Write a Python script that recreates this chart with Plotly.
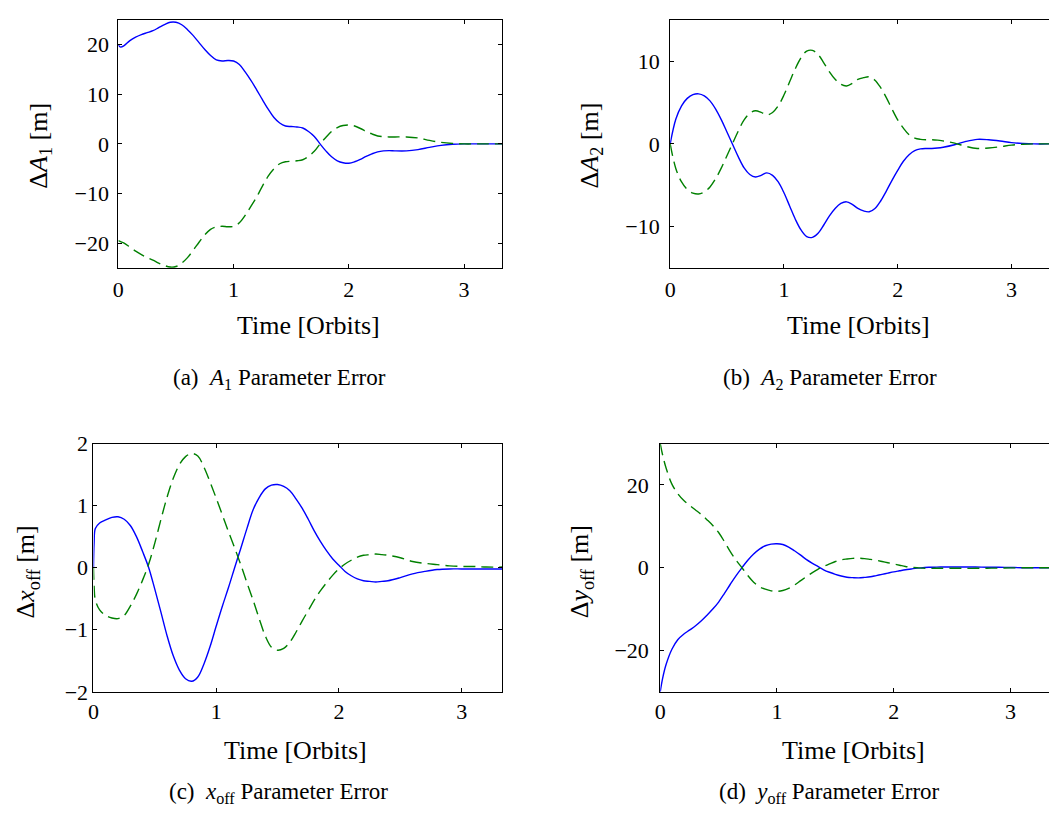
import plotly.graph_objects as go

W, H = 1049, 828

# ---------------- data ----------------
t_a = [0, 0.02, 0.05, 0.1, 0.15, 0.2, 0.25, 0.3, 0.35, 0.4, 0.45, 0.5, 0.55, 0.6, 0.65, 0.7,
       0.75, 0.8, 0.85, 0.9, 0.95, 1.0, 1.05, 1.1, 1.15, 1.2, 1.25, 1.3, 1.35, 1.4, 1.45, 1.5,
       1.55, 1.6, 1.65, 1.7, 1.75, 1.8, 1.85, 1.9, 1.95, 2.0, 2.05, 2.1, 2.15, 2.2, 2.25, 2.3,
       2.35, 2.4, 2.5, 2.6, 2.7, 2.8, 2.9, 3.0, 3.1, 3.2, 3.33]
a1_blue = [19.9, 19.5, 19.8, 20.8, 21.5, 22.0, 22.4, 22.8, 23.4, 24.0, 24.5, 24.5, 24.0, 23.0,
           21.8, 20.4, 19.0, 17.8, 16.9, 16.7, 16.8, 16.7, 16.0, 14.5, 12.8, 10.9, 8.9, 7.0,
           5.3, 4.2, 3.6, 3.5, 3.4, 3.2, 2.5, 1.5, 0.0, -1.4, -2.6, -3.4, -3.8, -3.9, -3.6,
           -3.1, -2.5, -2.0, -1.6, -1.4, -1.35, -1.4, -1.4, -1.15, -0.7, -0.3, -0.08, 0.0,
           0.0, 0.0, 0.0]
a1_green = [-19.5, -19.7, -20.0, -20.8, -21.6, -22.3, -22.9, -23.4, -24.0, -24.5, -24.8,
            -24.7, -24.0, -22.9, -21.4, -19.8, -18.3, -17.2, -16.7, -16.6, -16.7, -16.6,
            -15.9, -14.4, -12.6, -10.7, -8.5, -6.5, -5.0, -4.0, -3.6, -3.5, -3.4, -3.2, -2.5,
            -1.5, 0.0, 1.3, 2.5, 3.3, 3.7, 3.8, 3.6, 3.1, 2.5, 2.0, 1.6, 1.45, 1.4, 1.4, 1.4,
            1.2, 0.7, 0.3, 0.08, 0.0, 0.0, 0.0, 0.0]

t_b = [0, 0.05, 0.1, 0.15, 0.2, 0.25, 0.3, 0.35, 0.4, 0.45, 0.5, 0.55, 0.6, 0.65, 0.7, 0.75,
       0.8, 0.85, 0.9, 0.95, 1.0, 1.05, 1.1, 1.15, 1.2, 1.25, 1.3, 1.35, 1.4, 1.45, 1.5, 1.55,
       1.6, 1.65, 1.7, 1.75, 1.8, 1.85, 1.9, 1.95, 2.0, 2.05, 2.1, 2.15, 2.2, 2.25, 2.3, 2.35,
       2.4, 2.5, 2.6, 2.7, 2.8, 2.9, 3.0, 3.1, 3.2, 3.33]
a2_blue = [0.0, 3.0, 4.6, 5.5, 5.95, 6.05, 5.8, 5.2, 4.2, 2.9, 1.4, -0.1, -1.6, -2.9, -3.7,
           -4.0, -3.8, -3.5, -3.8, -4.6, -5.9, -7.5, -9.1, -10.4, -11.2, -11.3, -10.8, -9.8,
           -8.7, -7.8, -7.2, -7.0, -7.3, -7.8, -8.1, -8.2, -7.8, -6.9, -5.7, -4.4, -3.2,
           -2.1, -1.3, -0.8, -0.6, -0.55, -0.55, -0.5, -0.4, -0.1, 0.3, 0.55, 0.5, 0.35,
           0.15, 0.05, 0.0, 0.0]
a2_green = [0.0, -3.0, -4.6, -5.5, -5.95, -6.05, -5.8, -5.2, -4.2, -2.9, -1.4, 0.1, 1.6, 2.9,
            3.7, 4.0, 3.8, 3.5, 3.8, 4.6, 5.9, 7.5, 9.1, 10.4, 11.2, 11.3, 10.8, 9.8, 8.7,
            7.8, 7.2, 7.0, 7.3, 7.8, 8.0, 8.1, 7.7, 6.8, 5.6, 4.2, 2.9, 1.9, 1.1, 0.7, 0.55,
            0.5, 0.5, 0.45, 0.35, 0.1, -0.3, -0.55, -0.5, -0.35, -0.15, -0.05, 0.0, 0.0]

t_c = [0, 0.005, 0.015, 0.05, 0.1, 0.15, 0.2, 0.25, 0.3, 0.35, 0.4, 0.45, 0.5, 0.55, 0.6,
       0.65, 0.7, 0.75, 0.8, 0.85, 0.9, 0.95, 1.0, 1.05, 1.1, 1.15, 1.2, 1.25, 1.3, 1.35, 1.4,
       1.45, 1.5, 1.55, 1.6, 1.65, 1.7, 1.75, 1.8, 1.85, 1.9, 1.95, 2.0, 2.05, 2.1, 2.15,
       2.2, 2.25, 2.3, 2.35, 2.4, 2.5, 2.6, 2.7, 2.8, 2.9, 3.0, 3.1, 3.2, 3.33]
xoff_blue = [0.0, 0.4, 0.63, 0.72, 0.77, 0.81, 0.82, 0.78, 0.68, 0.5, 0.26, 0.0, -0.35, -0.72,
             -1.1, -1.42, -1.65, -1.79, -1.83, -1.76, -1.55, -1.27, -0.94, -0.62, -0.32, 0.0,
             0.31, 0.63, 0.93, 1.13, 1.27, 1.33, 1.34, 1.31, 1.24, 1.11, 0.96, 0.78, 0.59,
             0.42, 0.27, 0.14, 0.04, -0.06, -0.13, -0.18, -0.21, -0.22, -0.23, -0.22, -0.21,
             -0.16, -0.1, -0.06, -0.03, -0.02, -0.02, -0.02, -0.02, -0.02]
xoff_green = [0.0, -0.3, -0.52, -0.68, -0.77, -0.81, -0.82, -0.77, -0.62, -0.43, -0.2, 0.06,
              0.4, 0.78, 1.14, 1.44, 1.66, 1.79, 1.84, 1.8, 1.62, 1.38, 1.12, 0.85, 0.58,
              0.32, 0.05, -0.24, -0.52, -0.82, -1.1, -1.28, -1.33, -1.3, -1.2, -1.04, -0.86,
              -0.69, -0.52, -0.37, -0.24, -0.12, -0.02, 0.06, 0.12, 0.17, 0.2, 0.21, 0.22,
              0.21, 0.2, 0.16, 0.1, 0.07, 0.05, 0.03, 0.02, 0.02, 0.01, 0.01]

t_d = [0, 0.02, 0.05, 0.1, 0.15, 0.2, 0.25, 0.3, 0.35, 0.4, 0.45, 0.5, 0.55, 0.6, 0.65, 0.7,
       0.75, 0.8, 0.85, 0.9, 0.95, 1.0, 1.05, 1.1, 1.15, 1.2, 1.25, 1.3, 1.35, 1.4, 1.45, 1.5,
       1.55, 1.6, 1.65, 1.7, 1.75, 1.8, 1.85, 1.9, 1.95, 2.0, 2.05, 2.1, 2.15, 2.2, 2.25, 2.3,
       2.35, 2.4, 2.5, 2.6, 2.7, 2.8, 2.9, 3.0, 3.1, 3.2, 3.33]
yoff_blue = [-30.0, -26.8, -23.4, -19.7, -17.4, -16.1, -15.1, -14.1, -12.9, -11.5, -10.0,
             -8.3, -6.2, -4.0, -1.9, 0.0, 1.8, 3.3, 4.5, 5.3, 5.7, 5.8, 5.6, 5.0, 4.1, 3.1,
             2.0, 1.1, 0.3, -0.5, -1.1, -1.6, -2.0, -2.3, -2.4, -2.45, -2.35, -2.2, -1.9,
             -1.6, -1.3, -1.0, -0.75, -0.5, -0.3, -0.1, 0.0, 0.1, 0.12, 0.15, 0.15, 0.15,
             0.15, 0.12, 0.1, 0.05, 0.0, 0.0, 0.0]
yoff_green = [30.0, 27.3, 24.1, 20.2, 17.9, 16.3, 15.1, 14.0, 12.9, 11.6, 10.2, 8.5, 6.3, 3.9,
              1.8, 0.0, -1.9, -3.5, -4.6, -5.2, -5.6, -5.7, -5.5, -5.0, -4.2, -3.2, -2.2,
              -1.25, -0.4, 0.3, 0.9, 1.5, 1.9, 2.1, 2.25, 2.3, 2.2, 2.0, 1.8, 1.5, 1.2, 0.9,
              0.6, 0.3, 0.1, 0.0, -0.1, -0.15, -0.15, -0.15, -0.15, -0.15, -0.15, -0.12,
              -0.1, -0.05, -0.02, 0.0, 0.0]

x_ticks = [0, 1, 2, 3]
panels = [
    dict(t=t_a, blue=a1_blue, green=a1_green, yr=[-25, 25], yt=[-20, -10, 0, 10, 20],
         ylab="Δ<i>A</i><sub>1</sub> [m]",
         cap="(a)  <i>A</i><sub>1</sub> Parameter Error"),
    dict(t=t_b, blue=a2_blue, green=a2_green, yr=[-15, 15], yt=[-10, 0, 10],
         ylab="Δ<i>A</i><sub>2</sub> [m]",
         cap="(b)  <i>A</i><sub>2</sub> Parameter Error"),
    dict(t=t_c, blue=xoff_blue, green=xoff_green, yr=[-2, 2], yt=[-2, -1, 0, 1, 2],
         ylab="Δ<i>x</i><sub>off</sub> [m]",
         cap="(c)  <i>x</i><sub>off</sub> Parameter Error"),
    dict(t=t_d, blue=yoff_blue, green=yoff_green, yr=[-30, 30], yt=[-20, 0, 20],
         ylab="Δ<i>y</i><sub>off</sub> [m]",
         cap="(d)  <i>y</i><sub>off</sub> Parameter Error"),
]
for p in panels:
    assert len(p["t"]) == len(p["blue"]) == len(p["green"])

# ---------------- layout geometry (pixels) ----------------
boxes = [  # left, right, top, bottom
    (113, 499, 8, 264),
    (668, 1049, 8, 264),
    (88, 499, 445, 701),
    (658, 1049, 445, 701),
]
ystand = [4, 5, 0, 6]
xstand = [2, 2, 0, 0]
ylab_pos = [(34, 138), (588, 138), (21, 577), (578, 577)]
xlab_pos = [(304, 323), (857, 323), (291, 762), (852, 762)]
cap_pos = [(275, 378), (829, 378), (274, 805), (828, 805)]

FONT = "Liberation Serif"


def px(x):
    return x / W


def py(y):
    return 1 - y / H


fig = go.Figure()
annotations = []
for i, (p, b) in enumerate(zip(panels, boxes)):
    n = "" if i == 0 else str(i + 1)
    xa, ya = "x" + n, "y" + n
    fig.add_trace(go.Scatter(x=p["t"], y=p["blue"], mode="lines", xaxis=xa, yaxis=ya,
                             line=dict(color="#0000FF", width=1.4, shape="spline"),
                             showlegend=False))
    fig.add_trace(go.Scatter(x=p["t"], y=p["green"], mode="lines", xaxis=xa, yaxis=ya,
                             line=dict(color="#008000", width=1.4, shape="spline",
                                       dash="12px,6px"),
                             showlegend=False))
    l, r, t, bt = b
    right_edge = (i % 2 == 1)
    common = dict(showline=True, linecolor="black", linewidth=1, ticks="inside",
                  ticklen=4, tickcolor="black", showgrid=False, zeroline=False,
                  tickfont=dict(family=FONT, size=22, color="black"))
    fig.layout["xaxis" + n] = dict(domain=[px(l), px(r)], range=[0, 3.33],
                                   tickvals=x_ticks, anchor=ya, mirror="ticks",
                                   ticklabelstandoff=xstand[i], **common)
    fig.layout["yaxis" + n] = dict(domain=[py(bt), py(t)], range=p["yr"], tickvals=p["yt"],
                                   anchor=xa, mirror=(False if right_edge else "ticks"),
                                   ticklabelstandoff=ystand[i], **common)
    annotations.append(dict(x=px(ylab_pos[i][0]), y=py(ylab_pos[i][1]), xref="paper",
                            yref="paper", text=p["ylab"], textangle=-90, showarrow=False,
                            font=dict(family=FONT, size=26, color="black"),
                            xanchor="center", yanchor="middle"))
    annotations.append(dict(x=px(xlab_pos[i][0]), y=py(xlab_pos[i][1]), xref="paper",
                            yref="paper", text="Time [Orbits]", showarrow=False,
                            font=dict(family=FONT, size=26, color="black"),
                            xanchor="center", yanchor="middle"))
    annotations.append(dict(x=px(cap_pos[i][0]), y=py(cap_pos[i][1]), xref="paper",
                            yref="paper", text=p["cap"], showarrow=False,
                            font=dict(family=FONT, size=23, color="black"),
                            xanchor="center", yanchor="middle"))

fig.update_layout(width=W, height=H, margin=dict(l=0, r=0, t=0, b=0),
                  paper_bgcolor="white", plot_bgcolor="white",
                  font=dict(family=FONT, color="black"),
                  annotations=annotations, showlegend=False)

fig.write_html("out.html", config={"displayModeBar": False})
